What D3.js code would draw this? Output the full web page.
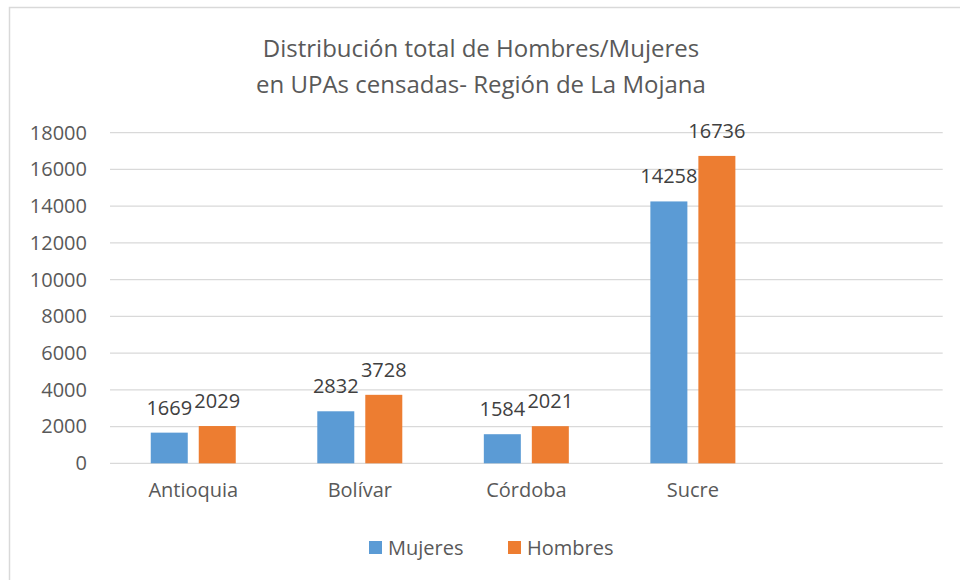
<!DOCTYPE html>
<html>
<head>
<meta charset="utf-8">
<script src="https://cdn.jsdelivr.net/npm/d3@7"></script>
<style>
  body { margin: 0; background: #ffffff; }
  svg { display: block; font-family: "Open Sans", sans-serif; }
</style>
</head>
<body>
<div id="chart"></div>
<script>
// 5th slot is empty in the original sheet
const categories = ["Antioquia", "Bolívar", "Córdoba", "Sucre", ""];
const seriesNames = ["Mujeres", "Hombres"];
const mujeres = [1669, 2832, 1584, 14258, null];
const hombres = [2029, 3728, 2021, 16736, null];
const yTicks = [0, 2000, 4000, 6000, 8000, 10000, 12000, 14000, 16000, 18000];
const titleLines = ["Distribución total de Hombres/Mujeres", "en UPAs censadas- Región de La Mojana"];

const palette = { Mujeres: "#5b9bd5", Hombres: "#ed7d31" };

const width = 960;
const height = 580;
const plot = { left: 110, right: 942.7, top: 132.7, bottom: 463.3 };

const svg = d3.select("#chart").append("svg").attr("width", width).attr("height", height);

// chart frame (only top/left edges fall inside the picture)
svg.append("rect")
  .attr("x", 9.5).attr("y", 7.5)
  .attr("width", 980).attr("height", 600)
  .attr("fill", "#ffffff")
  .attr("stroke", "#d9d9d9")
  .attr("stroke-width", 1.5);

svg.append("g")
  .selectAll("text")
  .data(titleLines)
  .join("text")
  .attr("x", 481)
  .attr("y", (d, i) => 57 + i * 36)
  .attr("text-anchor", "middle")
  .attr("fill", "#595959")
  .attr("font-size", 24)
  .text((d) => d);

const x = d3.scaleBand().domain(categories).range([plot.left, plot.right]).paddingInner(0).paddingOuter(0);
const xSub = d3.scaleBand().domain(seriesNames).range([40.75, 125.75]).paddingInner(0.229);
const y = d3.scaleLinear().domain([0, 18000]).range([plot.bottom, plot.top]);

const rows = categories.map((cat, i) => ({ cat, values: [
  { key: "Mujeres", value: mujeres[i] },
  { key: "Hombres", value: hombres[i] }
] }));

// gridlines
svg.append("g")
  .selectAll("line")
  .data(yTicks)
  .join("line")
  .attr("x1", plot.left)
  .attr("x2", plot.right)
  .attr("y1", (d) => y(d))
  .attr("y2", (d) => y(d))
  .attr("stroke", "#d9d9d9")
  .attr("stroke-width", 1.3);

// y axis labels
svg.append("g")
  .attr("transform", `translate(${plot.left - 23},0)`)
  .call(d3.axisLeft(y).tickValues(yTicks).tickSize(0).tickPadding(0).tickFormat(d3.format("d")))
  .call((axis) => axis.select(".domain").remove())
  .call((axis) => axis.selectAll("text")
    .attr("fill", "#595959")
    .attr("font-size", 20)
    .attr("font-family", "Open Sans, sans-serif"));

// x axis labels
svg.append("g")
  .attr("transform", `translate(0,${plot.bottom})`)
  .call(d3.axisBottom(x).tickSize(0).tickPadding(20))
  .call((axis) => axis.select(".domain").remove())
  .call((axis) => axis.selectAll("text")
    .attr("fill", "#595959")
    .attr("font-size", 20)
    .attr("font-family", "Open Sans, sans-serif"));

const groups = svg.append("g")
  .selectAll("g")
  .data(rows)
  .join("g")
  .attr("transform", (d) => `translate(${x(d.cat)},0)`);

const bars = groups.selectAll("g")
  .data((d) => d.values.filter((v) => v.value != null))
  .join("g");

bars.append("rect")
  .attr("x", (d) => xSub(d.key))
  .attr("y", (d) => y(d.value))
  .attr("width", xSub.bandwidth())
  .attr("height", (d) => y(0) - y(d.value))
  .attr("fill", (d) => palette[d.key]);

bars.append("text")
  .attr("x", (d) => xSub(d.key) + xSub.bandwidth() / 2)
  .attr("y", (d) => y(d.value) - 18)
  .attr("text-anchor", "middle")
  .attr("fill", "#404040")
  .attr("font-size", 20)
  .text((d) => d.value);

// legend
const legendX = [369, 508];
const legend = svg.append("g")
  .selectAll("g")
  .data(seriesNames)
  .join("g")
  .attr("transform", (d, i) => `translate(${legendX[i]},541)`);

legend.append("rect")
  .attr("width", 13)
  .attr("height", 13)
  .attr("fill", (d) => palette[d]);

legend.append("text")
  .attr("x", 19)
  .attr("y", 14)
  .attr("fill", "#595959")
  .attr("font-size", 20)
  .text((d) => d);
</script>
</body>
</html>
